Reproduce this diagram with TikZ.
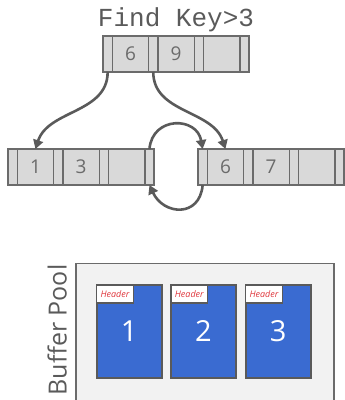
\documentclass[tikz,border=0pt]{standalone}
\usepackage{fontspec}
\setmainfont{Open Sans}
\newfontfamily\codefont{Liberation Mono}
\usetikzlibrary{positioning,arrows.meta}

\definecolor{cellgray}{HTML}{D9D9D9}
\definecolor{linegray}{HTML}{6B6B6B}
\definecolor{arrowgray}{HTML}{5A5A5A}
\definecolor{poolgray}{HTML}{F2F2F2}
\definecolor{pageblue}{HTML}{3A6BD1}
\definecolor{hdrred}{HTML}{E0383E}

\begin{document}
\begin{tikzpicture}
        [x=1pt, y=1pt,
        ptrcell/.style={draw=linegray, fill=cellgray, line width=1.4pt, minimum width=9.3pt, minimum height=36pt, inner sep=0pt, outer sep=0pt},
        keycell/.style={ptrcell, minimum width=36.3pt, text=linegray, font=\fontsize{19}{19}\selectfont},
        childarrow/.style={arrowgray, line width=2.6pt, -{Triangle[width=10pt,length=9pt]}},
        bufpage/.style={draw=arrowgray, fill=pageblue, line width=2pt, minimum width=65pt, minimum height=92.7pt, inner sep=0pt, outer sep=0pt, text=white, font=\fontsize{29}{29}\selectfont},
        pagehdr/.style={draw=arrowgray, fill=white, line width=1.5pt, minimum width=36.6pt, minimum height=18pt, inner sep=0pt, outer sep=0pt, text=hdrred, font=\fontsize{9}{9}\selectfont\itshape}]

        \useasboundingbox (0,0) rectangle (345,400);

        % query
        \node[anchor=base, text=arrowgray, font=\codefont\fontsize{26}{26}\selectfont] (query) at (176,373) {Find Key>3};

        % inner node
        \node[ptrcell, anchor=north west] (t-p1) at (103,364) {};
        \node[keycell, right=0pt of t-p1] (t-k1) {6};
        \node[ptrcell, right=0pt of t-k1] (t-p2) {};
        \node[keycell, right=0pt of t-p2] (t-k2) {9};
        \node[ptrcell, right=0pt of t-k2] (t-p3) {};
        \node[keycell, right=0pt of t-p3] (t-k3) {};
        \node[ptrcell, right=0pt of t-k3] (t-p4) {};

        % left leaf
        \node[ptrcell, anchor=north west] (l-p1) at (8,251) {};
        \node[keycell, right=0pt of l-p1] (l-k1) {1};
        \node[ptrcell, right=0pt of l-k1] (l-p2) {};
        \node[keycell, right=0pt of l-p2] (l-k2) {3};
        \node[ptrcell, right=0pt of l-k2] (l-p3) {};
        \node[keycell, right=0pt of l-p3] (l-k3) {};
        \node[ptrcell, right=0pt of l-k3] (l-p4) {};

        % right leaf
        \node[ptrcell, anchor=north west] (r-p1) at (198,251) {};
        \node[keycell, right=0pt of r-p1] (r-k1) {6};
        \node[ptrcell, right=0pt of r-k1] (r-p2) {};
        \node[keycell, right=0pt of r-p2] (r-k2) {7};
        \node[ptrcell, right=0pt of r-k2] (r-p3) {};
        \node[keycell, right=0pt of r-p3] (r-k3) {};
        \node[ptrcell, right=0pt of r-k3] (r-p4) {};

        % child pointers
        \draw[childarrow] (t-p1.south) to[out=-90, in=72] (l-k1.north);
        \draw[childarrow] (t-p2.south) to[out=-90, in=108] (r-k1.north);

        % sibling pointers
        \draw[childarrow] (l-p4.north) to[out=85, in=100, looseness=1.6] (r-p1.north);
        \draw[childarrow] (r-p1.south) to[out=-95, in=-65, looseness=1.6] (l-p4.south);

        % buffer pool with its pages
        \node[draw=linegray, fill=poolgray, line width=1.5pt, minimum width=258pt, minimum height=150pt, anchor=north west] (pool) at (75,137) {};
        \node[rotate=90, text=arrowgray, font=\fontsize{25}{25}\selectfont] (poollabel) at (57.2,70) {Buffer Pool};

        \node[bufpage] (pg1) at (129.2,68.6) {1};
        \node[bufpage] (pg2) at (203.5,68.6) {2};
        \node[bufpage] (pg3) at (278.2,68.6) {3};

        \node[pagehdr, anchor=north west] (hdr1) at (pg1.north west) {Header};
        \node[pagehdr, anchor=north west] (hdr2) at (pg2.north west) {Header};
        \node[pagehdr, anchor=north west] (hdr3) at (pg3.north west) {Header};

\end{tikzpicture}
\end{document}
